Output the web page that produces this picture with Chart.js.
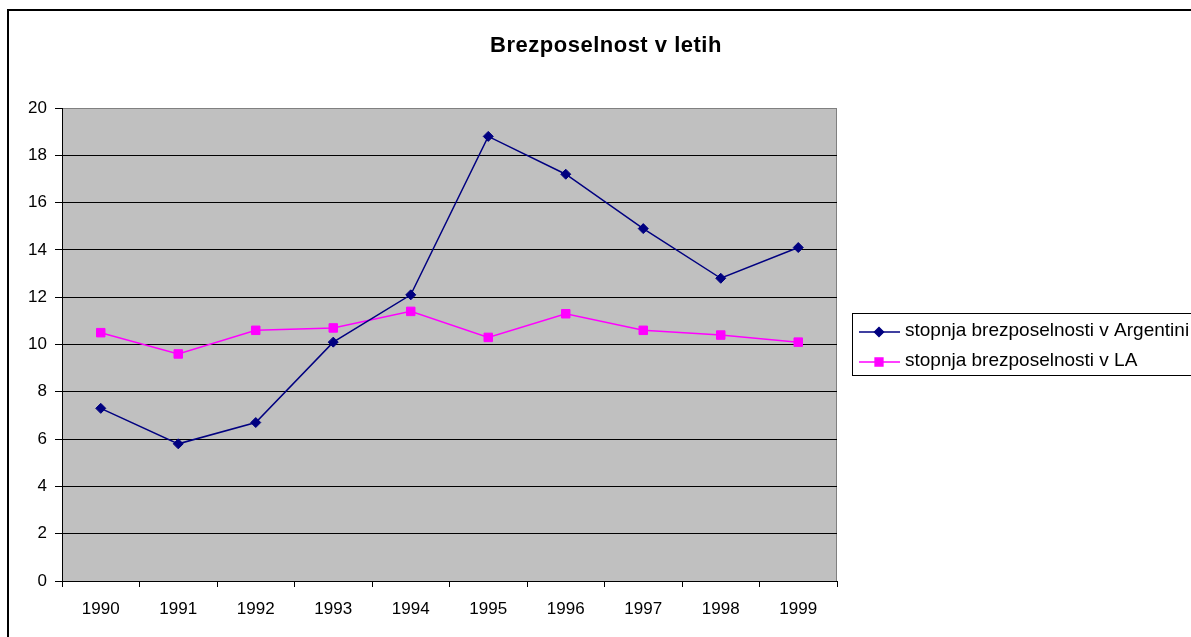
<!DOCTYPE html>
<html lang="sl">
  <head>
    <meta charset="UTF-8" />
    <title>Brezposelnost v letih</title>
    <script src="https://cdn.jsdelivr.net/npm/chart.js@4"></script>
    <style>
      html, body { margin: 0; padding: 0; background: #fff; overflow: hidden; }
      canvas { display: block; }
    </style>
  </head>
  <body>
    <canvas id="myChart" width="1191" height="637"></canvas>

    <script>
      // values
      const years = ['1990', '1991', '1992', '1993', '1994', '1995', '1996', '1997', '1998', '1999'];
      const argentina = [7.3, 5.8, 6.7, 10.1, 12.1, 18.8, 17.2, 14.9, 12.8, 14.1];
      const latinAmerica = [10.5, 9.6, 10.6, 10.7, 11.4, 10.3, 11.3, 10.6, 10.4, 10.1];
      const seriesNames = ['stopnja brezposelnosti v Argentini', 'stopnja brezposelnosti v LA'];
      const chartTitle = 'Brezposelnost v letih';

      const font = "'Liberation Sans', Arial, sans-serif";

      // gray plot area + outer frame, drawn before the scales
      const backdrop = {
        id: 'backdrop',
        beforeDraw(chart) {
          const { ctx, chartArea: a } = chart;
          ctx.save();
          ctx.fillStyle = '#fff';
          ctx.fillRect(0, 0, chart.width, chart.height);
          ctx.strokeStyle = '#000';
          ctx.lineWidth = 2;
          ctx.strokeRect(8, 10, 1200, 660);
          ctx.fillStyle = '#C0C0C0';
          ctx.fillRect(a.left, a.top, a.right - a.left, a.bottom - a.top);
          ctx.strokeStyle = '#808080';
          ctx.lineWidth = 1;
          ctx.strokeRect(a.left + 0.5, a.top + 0.5, a.right - a.left - 1, a.bottom - a.top);
          ctx.restore();
        }
      };

      // title and boxed legend like Excel draws them
      const excelBits = {
        id: 'excelBits',
        afterDraw(chart) {
          const ctx = chart.ctx;
          ctx.save();
          ctx.fillStyle = '#000';
          ctx.font = 'bold 22px ' + font;
          ctx.letterSpacing = '0.5px';
          ctx.textAlign = 'center';
          ctx.textBaseline = 'alphabetic';
          ctx.fillText(chartTitle, 606, 52);
          ctx.letterSpacing = '0px';

          // legend box
          ctx.fillStyle = '#fff';
          ctx.fillRect(852, 313, 400, 63);
          ctx.strokeStyle = '#000';
          ctx.lineWidth = 1;
          ctx.strokeRect(852.5, 313.5, 400, 62);

          const rowY = [332, 362];
          chart.data.datasets.forEach((ds, i) => {
            const y = rowY[i];
            ctx.strokeStyle = ds.borderColor;
            ctx.lineWidth = 1.5;
            ctx.beginPath();
            ctx.moveTo(859, y);
            ctx.lineTo(900, y);
            ctx.stroke();
            ctx.fillStyle = ds.pointBackgroundColor;
            ctx.strokeStyle = ds.borderColor;
            Chart.helpers.drawPoint(ctx, {
              pointStyle: ds.pointStyle,
              radius: ds.pointRadius - 0.5,
              rotation: 0,
              borderWidth: 1
            }, 879, y);
            ctx.fillStyle = '#000';
            ctx.font = '19px ' + font;
            ctx.textAlign = 'left';
            ctx.textBaseline = 'alphabetic';
            ctx.fillText(ds.label, 905, y + 4);
          });
          ctx.restore();
        }
      };

      const ctx = document.getElementById('myChart').getContext('2d');
      const myChart = new Chart(ctx, {
        type: 'line',
        data: {
          labels: years,
          datasets: [
            {
              label: seriesNames[0],
              data: argentina,
              borderColor: '#000080',
              backgroundColor: '#000080',
              pointBackgroundColor: '#000080',
              borderWidth: 1.5,
              pointStyle: 'rectRot',
              pointRadius: 5,
              pointBorderWidth: 1,
              tension: 0,
              fill: false
            },
            {
              label: seriesNames[1],
              data: latinAmerica,
              borderColor: '#FF00FF',
              backgroundColor: '#FF00FF',
              pointBackgroundColor: '#FF00FF',
              borderWidth: 1.5,
              pointStyle: 'rect',
              pointRadius: 6,
              pointBorderWidth: 1,
              tension: 0,
              fill: false
            }
          ]
        },
        options: {
          responsive: false,
          animation: false,
          layout: {
            padding: { left: 12, top: 108, right: 354, bottom: 16 }
          },
          plugins: {
            legend: { display: false },
            title: { display: false },
            tooltip: { enabled: false }
          },
          scales: {
            x: {
              offset: true,
              afterFit: (s) => { s.height = 40; },
              grid: {
                offset: true,
                drawOnChartArea: false,
                drawTicks: true,
                tickLength: 6,
                tickColor: '#000'
              },
              border: { display: true, color: '#000', width: 1 },
              ticks: {
                color: '#000',
                padding: 12,
                maxRotation: 0,
                font: { family: font, size: 17 }
              }
            },
            y: {
              min: 0,
              max: 20,
              afterFit: (s) => { s.width = 50; },
              grid: {
                color: (c) => (c.tick && c.tick.value === 20 ? '#808080' : '#000'),
                lineWidth: 1,
                drawTicks: true,
                tickLength: 7,
                tickColor: '#000'
              },
              border: { display: true, color: '#000', width: 1 },
              ticks: {
                stepSize: 2,
                color: '#000',
                padding: 8,
                font: { family: font, size: 17 }
              }
            }
          }
        },
        plugins: [backdrop, excelBits]
      });
    </script>
  </body>
</html>
